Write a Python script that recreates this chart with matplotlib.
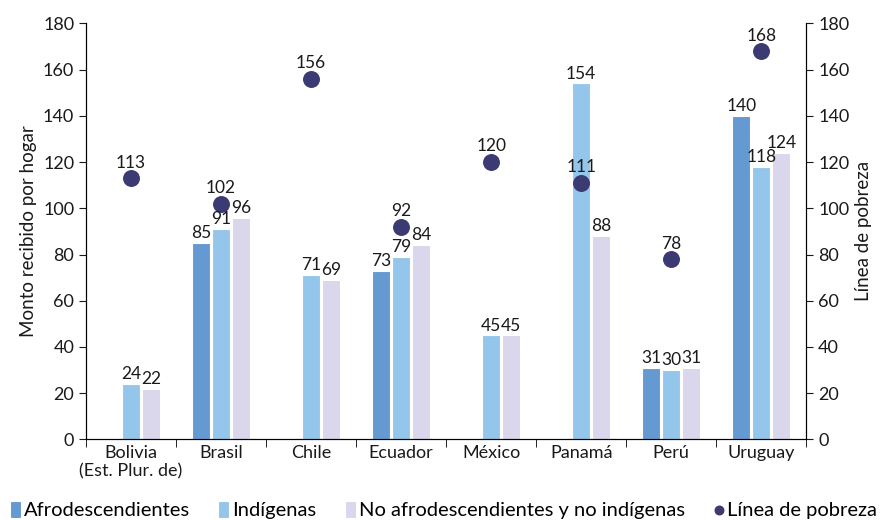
import numpy as np
import matplotlib
matplotlib.use("Agg")
import matplotlib.pyplot as plt

plt.rcParams["font.family"] = ["Lato", "DejaVu Sans"]

AFRO = "#6499d2"
INDI = "#94c6ec"
NOAF = "#dad6eb"
DOT = "#3b3a72"
INK = "#1a1a1a"

countries = ["Bolivia\n(Est. Plur. de)", "Brasil", "Chile", "Ecuador",
             "México", "Panamá", "Perú", "Uruguay"]
afro = [None, 85, None, 73, None, None, 31, 140]
indigenas = [24, 91, 71, 79, 45, 154, 30, 118]
no_afro = [22, 96, 69, 84, 45, 88, 31, 124]
linea = [113, 102, 156, 92, 120, 111, 78, 168]

fig, ax = plt.subplots(figsize=(8.87, 5.2), dpi=100)
fig.subplots_adjust(left=0.097, right=0.909, top=0.955, bottom=0.155)

x = np.arange(len(countries))
w = 0.2
off = 0.222
series = [(afro, AFRO, -off, "Afrodescendientes"),
          (indigenas, INDI, 0, "Indígenas"),
          (no_afro, NOAF, off, "No afrodescendientes y no indígenas")]
for vals, col, dx, lab in series:
    xs = [xi + dx for xi, v in zip(x, vals) if v is not None]
    vs = [v for v in vals if v is not None]
    ax.bar(xs, vs, width=w, color=col, edgecolor="white", linewidth=0.8,
           label=lab, zorder=2)
    for xi, v in zip(xs, vs):
        ax.text(xi, v + 0.8, str(v), ha="center", va="bottom", fontsize=12.5,
                color=INK, zorder=4)

ax.scatter(x, linea, s=125, color=DOT, zorder=3, label="Línea de pobreza")
for xi, v in zip(x, linea):
    ax.text(xi, v + 3.3, str(v), ha="center", va="bottom", fontsize=12.5,
            color=INK, zorder=4)

ax.set_xlim(-0.5, len(countries) - 0.5)
ax.set_ylim(0, 180)
ax.set_yticks(range(0, 181, 20))
ax.set_xticks(x)
ax.set_xticklabels(countries, fontsize=13, color=INK)
ax.set_xticks(np.arange(-0.5, len(countries)), minor=True)
ax.tick_params(axis="x", which="major", length=0, pad=4)
ax.tick_params(axis="x", which="minor", length=6, direction="out")
ax.tick_params(axis="y", labelsize=13, colors=INK, length=5)
ax.set_ylabel("Monto recibido por hogar", fontsize=13.5, color=INK)
ax.spines["top"].set_visible(False)

ax2 = ax.twinx()
ax2.set_ylim(0, 180)
ax2.set_yticks(range(0, 181, 20))
ax2.tick_params(axis="y", labelsize=13, colors=INK, length=5)
ax2.set_ylabel("Línea de pobreza", fontsize=13.5, color=INK)
ax2.spines["top"].set_visible(False)

# dot goes last in the legend, as in the source
h, l = ax.get_legend_handles_labels()
h = h[1:] + h[:1]
l = l[1:] + l[:1]
fig.legend(h, l, loc="lower center", bbox_to_anchor=(0.5, -0.022), ncol=4,
           frameon=False, fontsize=14.5, handlelength=0.55, handleheight=0.9,
           handletextpad=0.15, columnspacing=1.4, borderaxespad=0.2,
           markerscale=0.55)

fig.savefig("out.png", dpi=100)
